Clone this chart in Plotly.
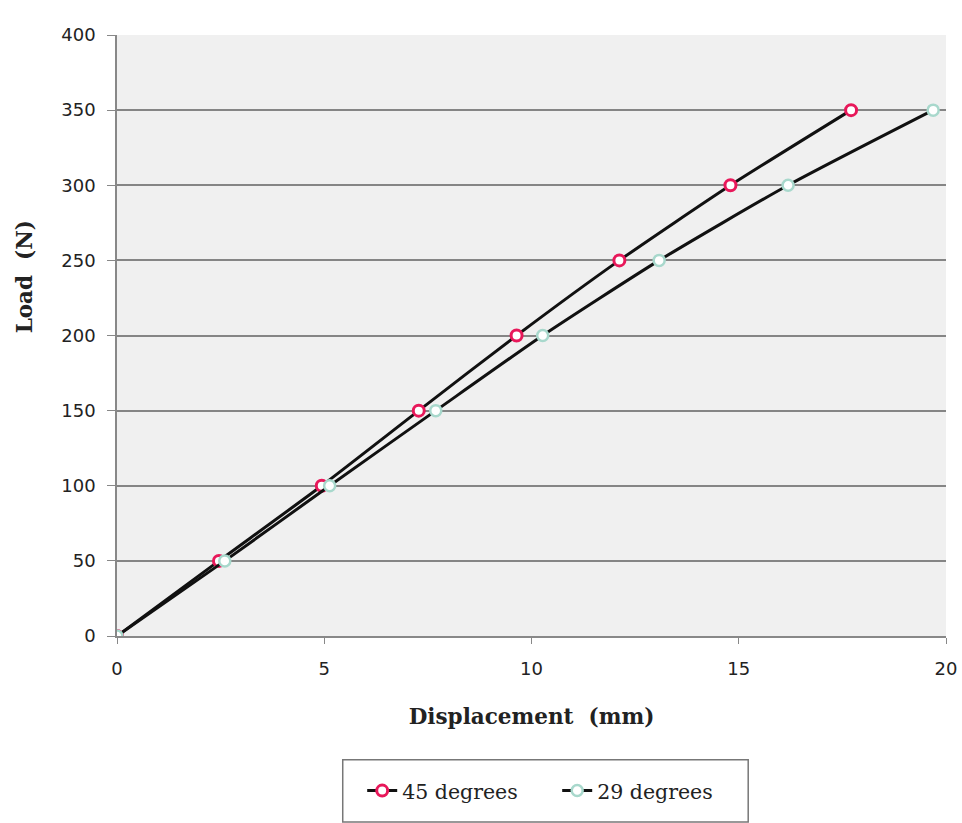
import plotly.graph_objects as go

# Load steps (N) and measured displacement (mm) for each fibre angle
load_n = [0, 50, 100, 150, 200, 250, 300, 350]
disp_45 = [0, 2.46, 4.94, 7.28, 9.64, 12.12, 14.80, 17.71]
disp_29 = [0, 2.60, 5.13, 7.69, 10.27, 13.08, 16.19, 19.69]

x_ticks = [0, 5, 10, 15, 20]
y_ticks = [0, 50, 100, 150, 200, 250, 300, 350, 400]

fig = go.Figure()
fig.add_trace(go.Scatter(
    x=disp_45, y=load_n, name="45 degrees", mode="lines+markers",
    line=dict(color="#111111", width=3, shape="spline", smoothing=0.6),
    marker=dict(symbol="circle", size=11, color="white",
                line=dict(color="#e8185a", width=3)),
))
fig.add_trace(go.Scatter(
    x=disp_29, y=load_n, name="29 degrees", mode="lines+markers",
    line=dict(color="#111111", width=3, shape="spline", smoothing=0.6),
    marker=dict(symbol="circle", size=11, color="white",
                line=dict(color="#a8d8cc", width=2.5)),
))

tick_font = dict(family="DejaVu Sans", size=18, color="#222222")
title_font = dict(family="DejaVu Serif", size=21.5, color="#222222")

# legend frame
fig.add_shape(type="rect", xref="paper", yref="paper",
              x0=0.2723, x1=0.7614, y0=-0.206, y1=-0.3095,
              line=dict(color="#777777", width=1.5), fillcolor="white",
              layer="below")

# y-axis title
fig.add_annotation(text="<b>Load  (N)</b>", textangle=-90,
                   xref="paper", yref="paper", x=-0.112, y=0.597,
                   xanchor="center", yanchor="middle", showarrow=False,
                   font=title_font)

fig.update_layout(
    width=962, height=823,
    margin=dict(l=117, r=16, t=35, b=187),
    paper_bgcolor="white",
    plot_bgcolor="#f0f0f0",
    showlegend=True,
    legend=dict(
        orientation="h", x=0.531, xanchor="center", y=-0.2575, yanchor="middle",
        borderwidth=0, bgcolor="rgba(0,0,0,0)", entrywidth=150,
        font=dict(family="DejaVu Serif", size=20.5, color="#222222"),
    ),
    xaxis=dict(
        range=[0, 20], tickvals=x_ticks, showgrid=False, zeroline=False,
        showline=True, linecolor="#888888", linewidth=1.5,
        ticks="outside", ticklen=6, tickcolor="#888888",
        tickfont=tick_font, ticklabelstandoff=10, automargin=False,
        title=dict(text="<b>Displacement  (mm)</b>", font=title_font, standoff=31),
    ),
    yaxis=dict(
        range=[0, 400], tickvals=y_ticks, showgrid=True, gridcolor="#858585",
        gridwidth=1.5, zeroline=False,
        showline=True, linecolor="#888888", linewidth=1.5,
        ticks="outside", ticklen=8, tickcolor="#888888",
        tickfont=tick_font, ticklabelstandoff=8, automargin=False,
    ),
)

fig.write_html("out.html")
